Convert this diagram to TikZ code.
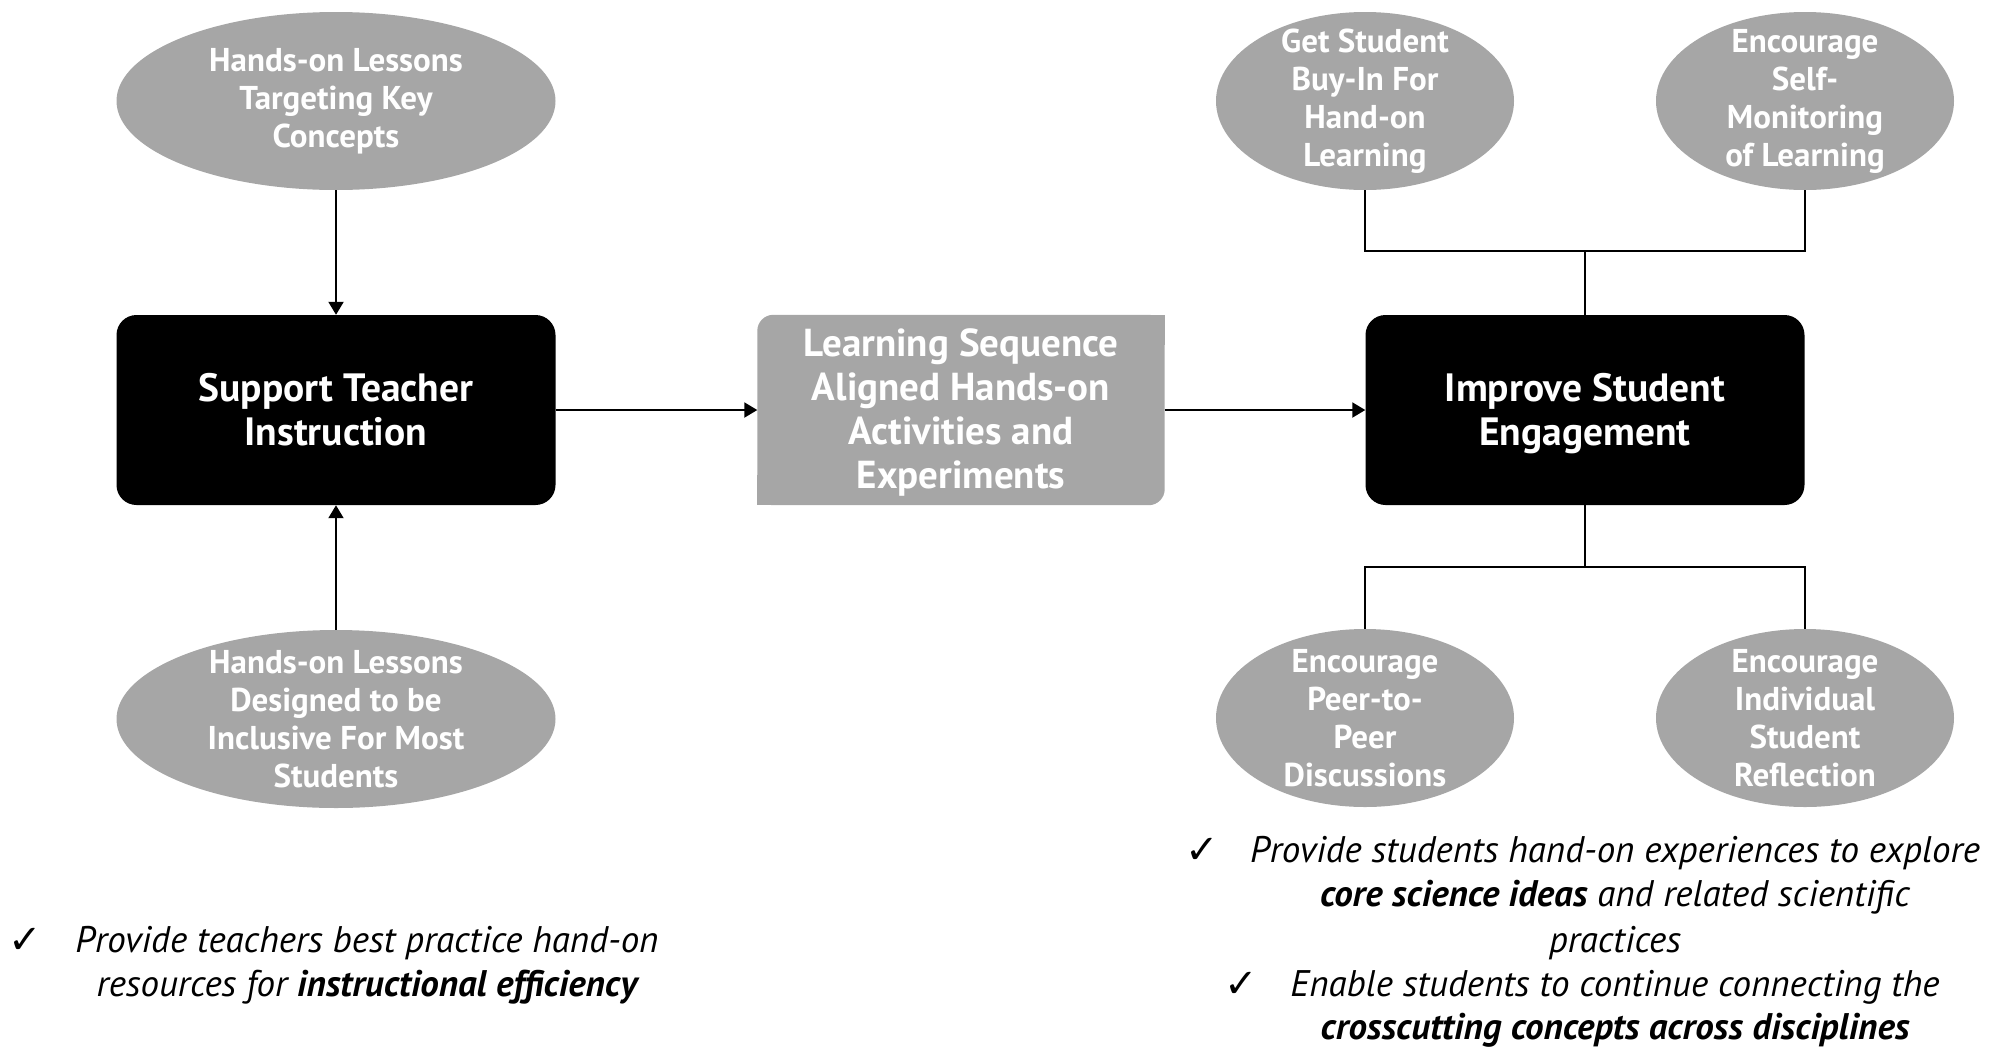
\documentclass[tikz,border=0pt]{standalone}
\usepackage{fontspec}
\setmainfont{PT Sans}
\newfontfamily\symfont{DejaVu Sans}
\usetikzlibrary{arrows.meta,shapes.geometric,backgrounds}
\definecolor{gr}{HTML}{A6A6A6}
\begin{document}
\begin{tikzpicture}[x=1pt,y=-1pt,
 ell/.style={ellipse, fill=gr, inner sep=0pt, minimum height=178pt},
 eltext/.style={text=white, font=\fontsize{33}{38}\selectfont\bfseries, align=center, inner sep=0pt},
 boxtext/.style={text=white, font=\fontsize{39.5}{44}\selectfont\bfseries, align=center, inner sep=0pt},
 blk/.style={fill=black, rounded corners=20pt, minimum width=439pt, minimum height=190pt, inner sep=0pt},
 arr/.style={draw, line width=2pt, -{Triangle[width=15pt,length=13pt]}},
 conn/.style={draw, line width=1.3pt},
 note/.style={font=\fontsize{37}{44}\selectfont\itshape, anchor=center, inner sep=0pt},
 chk/.style={font=\symfont\bfseries\fontsize{40}{44}\selectfont, anchor=center, inner sep=0pt}
]
\useasboundingbox (0,0) rectangle (1990,1050);

% left column
\node[ell, minimum width=439pt] (e1) at (336,101) {};
\node[eltext] (e1t) at (e1.center) {Hands-on Lessons\\Targeting Key\\Concepts};
\node[blk] (st) at (336,410) {};
\node[boxtext] (stt) at (336,410) {Support Teacher\\Instruction};
\node[ell, minimum width=439pt] (e2) at (336,719) {};
\node[eltext] (e2t) at (e2.center) {Hands-on Lessons\\Designed to be\\Inclusive For Most\\Students};

% middle
\node[minimum width=407pt, minimum height=190pt, inner sep=0pt] (ls) at (961,410) {};
\begin{scope}[on background layer]
\fill[gr, rounded corners=16pt] (ls.south west) rectangle (ls.north east);
\fill[gr] (ls.north east) rectangle ([xshift=-30pt,yshift=-30pt]ls.north east);
\fill[gr] (ls.south west) rectangle ([xshift=30pt,yshift=30pt]ls.south west);
\end{scope}
\node[boxtext, font=\fontsize{39}{44}\selectfont\bfseries] (lst) at (961,412) {Learning Sequence\\Aligned Hands-on\\Activities and\\Experiments};

% right
\node[blk] (ise) at (1585,410) {};
\node[boxtext] (iset) at (1585,414) {Improve Student\\Engagement};
\node[ell, minimum width=298pt] (g1) at (1365,101) {};
\node[eltext] (g1t) at (g1.center) {Get Student\\Buy-In For\\Hand-on\\Learning};
\node[ell, minimum width=298pt] (g2) at (1805,101) {};
\node[eltext] (g2t) at (g2.center) {Encourage\\Self-\\Monitoring\\of Learning};
\node[ell, minimum width=298pt] (g3) at (1365,718) {};
\node[eltext] (g3t) at (g3.center) {Encourage\\Peer-to-\\Peer\\Discussions};
\node[ell, minimum width=298pt] (g4) at (1805,718) {};
\node[eltext] (g4t) at (g4.center) {Encourage\\Individual\\Student\\Reflection};

% connectors
\draw[arr] (e1.south) -- (st.north);
\draw[arr] (e2.north) -- (st.south);
\draw[arr] (st.east) -- (ls.west);
\draw[arr] (ls.east) -- (ise.west);
\coordinate (tj) at (1585,251);
\coordinate (bj) at (1585,567);
\draw[conn] (g1.south) |- (tj) -| (g2.south);
\draw[conn] (tj) -- (ise.north);
\draw[conn] (ise.south) -- (bj);
\draw[conn] (g3.north) |- (bj) -| (g4.north);

% notes
\node[chk] (c1) at (25,941) {✓};
\node[note] (n1) at (367,943) {Provide teachers best practice hand-on};
\node[note] (n2) at (367,987) {resources for \textbf{instructional efficiency}};
\node[chk] (c2) at (1202,851) {✓};
\node[note] (n3) at (1615,853) {Provide students hand-on experiences to explore};
\node[note] (n4) at (1615,897) {\textbf{core science ideas} and related scientific};
\node[note] (n5) at (1615,943) {practices};
\node[chk] (c3) at (1241,985) {✓};
\node[note] (n6) at (1615,987) {Enable students to continue connecting the};
\node[note] (n7) at (1615,1030) {\textbf{crosscutting concepts across disciplines}};
\end{tikzpicture}
\end{document}
